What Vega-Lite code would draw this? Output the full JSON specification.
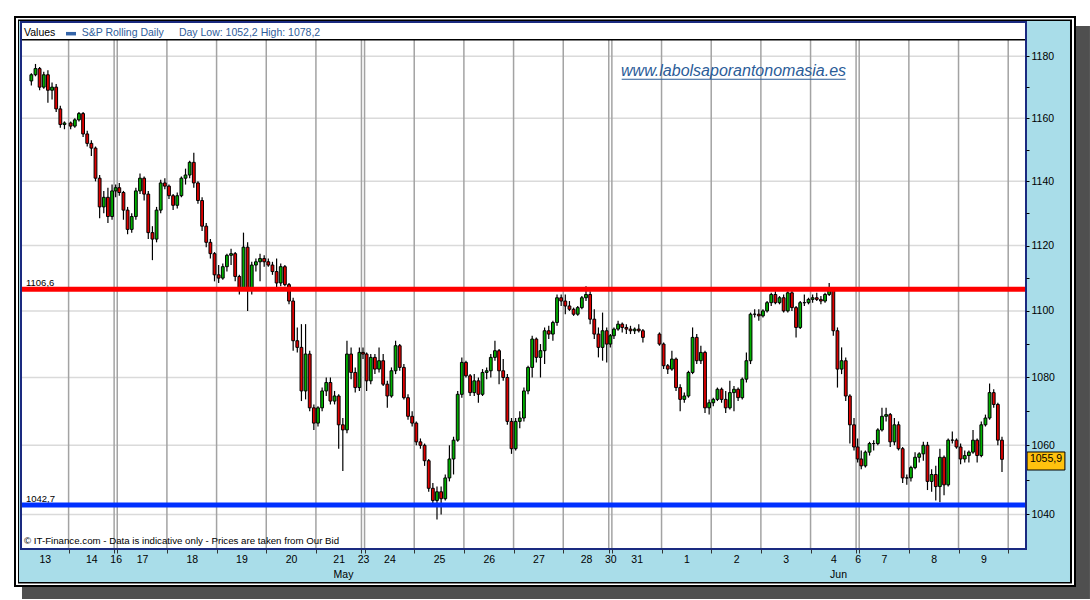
{
 "$schema": "https://vega.github.io/schema/vega-lite/v6.json",
 "width": 1005, "height": 527,
 "autosize": {"type": "none"},
 "padding": {"left": 21, "top": 22, "right": 64, "bottom": 51},
 "background": "white",
 "config": {"view": {"stroke": null}, "font": "Liberation Sans"},
 "resolve": {"axis": {"x": "independent", "y": "independent"}},
 "datasets": {
  "vgrid": [{"b":23},{"b":45},{"b":46.5},{"b":70.5},{"b":94.5},{"b":118.5},{"b":142.5},{"b":164.5},{"b":166},{"b":190},{"b":214},{"b":238},{"b":262},{"b":284},{"b":285.5},{"b":309.5},{"b":333.5},{"b":357.5},{"b":381.5},{"b":403.5},{"b":405},{"b":429},{"b":453},{"b":477}],
  "hgrid": [{"v":1040},{"v":1060},{"v":1080},{"v":1100},{"v":1120},{"v":1140},{"v":1160},{"v":1180}],
  "candles": [
{"t":5,"o":1172,"h":1174.5,"l":1170.5,"c":1174},
{"t":7,"o":1174,"h":1177.5,"l":1173.5,"c":1176},
{"t":9,"o":1176,"h":1176.5,"l":1169,"c":1170},
{"t":11,"o":1170,"h":1175,"l":1169.5,"c":1174},
{"t":13,"o":1174,"h":1175.5,"l":1165,"c":1169},
{"t":15,"o":1169,"h":1171.5,"l":1166,"c":1170},
{"t":17,"o":1170,"h":1171,"l":1162,"c":1163},
{"t":19,"o":1163,"h":1164,"l":1157,"c":1158},
{"t":21,"o":1158,"h":1159,"l":1156.5,"c":1158.5},
{"t":24,"o":1158.5,"h":1159,"l":1156.5,"c":1157.5},
{"t":26,"o":1157.5,"h":1160,"l":1157,"c":1159.5},
{"t":28,"o":1159.5,"h":1162,"l":1159,"c":1161.5},
{"t":30,"o":1161.5,"h":1162,"l":1154,"c":1155},
{"t":32,"o":1155,"h":1156,"l":1151,"c":1152},
{"t":34,"o":1152,"h":1153,"l":1148,"c":1150.5},
{"t":36,"o":1150.5,"h":1151,"l":1140,"c":1141},
{"t":38,"o":1141,"h":1142,"l":1128.5,"c":1132},
{"t":40,"o":1132,"h":1137,"l":1130,"c":1135},
{"t":42,"o":1135,"h":1138,"l":1127,"c":1129},
{"t":44,"o":1129,"h":1139,"l":1128,"c":1137},
{"t":45.75,"o":1137,"h":1139,"l":1135,"c":1138},
{"t":47.5,"o":1138,"h":1139.5,"l":1135.5,"c":1136.5},
{"t":49.5,"o":1136.5,"h":1137,"l":1128,"c":1131},
{"t":51.5,"o":1131,"h":1132,"l":1123.5,"c":1125},
{"t":53.5,"o":1125,"h":1130,"l":1124,"c":1129},
{"t":55.5,"o":1129,"h":1138,"l":1128,"c":1137},
{"t":57.5,"o":1137,"h":1142.5,"l":1136,"c":1141},
{"t":59.5,"o":1141,"h":1141.5,"l":1134,"c":1136},
{"t":61.5,"o":1136,"h":1137,"l":1122,"c":1124},
{"t":63.5,"o":1124,"h":1126,"l":1115.5,"c":1122},
{"t":65.5,"o":1122,"h":1132,"l":1121,"c":1131},
{"t":67.5,"o":1131,"h":1140.5,"l":1130,"c":1139.5},
{"t":69.5,"o":1139.5,"h":1141,"l":1137.5,"c":1138.5},
{"t":71.5,"o":1138.5,"h":1139,"l":1134.5,"c":1135.5},
{"t":73.5,"o":1135.5,"h":1136,"l":1131,"c":1132.5},
{"t":75.5,"o":1132.5,"h":1136.5,"l":1131.5,"c":1135.5},
{"t":77.5,"o":1135.5,"h":1141.5,"l":1135,"c":1141},
{"t":79.5,"o":1141,"h":1144,"l":1139,"c":1142},
{"t":81.5,"o":1142,"h":1146.5,"l":1141,"c":1146},
{"t":83.5,"o":1146,"h":1149,"l":1138,"c":1139.5},
{"t":85.5,"o":1139.5,"h":1140,"l":1133,"c":1134},
{"t":87.5,"o":1134,"h":1135,"l":1124.5,"c":1126},
{"t":89.5,"o":1126,"h":1127,"l":1119.5,"c":1121},
{"t":91.5,"o":1121,"h":1122,"l":1116,"c":1117.5},
{"t":93.5,"o":1117.5,"h":1118,"l":1109,"c":1111},
{"t":95.5,"o":1111,"h":1114,"l":1108.5,"c":1110},
{"t":97.5,"o":1110,"h":1114.5,"l":1109.5,"c":1113.5},
{"t":99.5,"o":1113.5,"h":1117.5,"l":1112,"c":1117},
{"t":101.5,"o":1117,"h":1119,"l":1114,"c":1117.5},
{"t":103.5,"o":1117.5,"h":1118,"l":1109,"c":1110.5},
{"t":105.5,"o":1110.5,"h":1111,"l":1105,"c":1107},
{"t":107.5,"o":1107,"h":1124,"l":1106.5,"c":1119.5},
{"t":109.5,"o":1119.5,"h":1121,"l":1100,"c":1107},
{"t":111.5,"o":1107,"h":1115,"l":1105,"c":1114},
{"t":113.5,"o":1114,"h":1116,"l":1112,"c":1115},
{"t":115.5,"o":1115,"h":1117.5,"l":1109,"c":1116},
{"t":117.5,"o":1116,"h":1117,"l":1113.5,"c":1115},
{"t":119.5,"o":1115,"h":1116,"l":1113.5,"c":1114},
{"t":121.5,"o":1114,"h":1115,"l":1111,"c":1112},
{"t":123.5,"o":1112,"h":1116,"l":1107,"c":1108.5},
{"t":125.5,"o":1108.5,"h":1114.5,"l":1107.5,"c":1113.5},
{"t":127.5,"o":1113.5,"h":1114,"l":1107.5,"c":1108},
{"t":129.5,"o":1108,"h":1108.5,"l":1102,"c":1103},
{"t":131.5,"o":1103,"h":1104,"l":1088,"c":1091},
{"t":133.5,"o":1091,"h":1095,"l":1087.5,"c":1089},
{"t":135.5,"o":1089,"h":1096,"l":1073,"c":1076},
{"t":137.5,"o":1076,"h":1096,"l":1073.5,"c":1087},
{"t":139.5,"o":1087,"h":1088,"l":1070,"c":1071},
{"t":141.5,"o":1071,"h":1072,"l":1064.5,"c":1066.5},
{"t":143.5,"o":1066.5,"h":1071.5,"l":1065.5,"c":1071},
{"t":145.5,"o":1071,"h":1077,"l":1070,"c":1076},
{"t":147.5,"o":1076,"h":1080,"l":1074.5,"c":1078.5},
{"t":149.5,"o":1078.5,"h":1080,"l":1072,"c":1073},
{"t":151.5,"o":1073,"h":1076,"l":1072,"c":1074.5},
{"t":153.5,"o":1074.5,"h":1075,"l":1059,"c":1066},
{"t":155.5,"o":1066,"h":1068,"l":1052.5,"c":1064.5},
{"t":157.5,"o":1064.5,"h":1091,"l":1063.5,"c":1087},
{"t":159.5,"o":1087,"h":1089,"l":1079.5,"c":1081.5},
{"t":161.5,"o":1081.5,"h":1083,"l":1075.5,"c":1077},
{"t":163.5,"o":1077,"h":1089,"l":1076,"c":1087.5},
{"t":165.25,"o":1087.5,"h":1089,"l":1085.5,"c":1087},
{"t":167,"o":1087,"h":1087.5,"l":1076,"c":1079},
{"t":169,"o":1079,"h":1087,"l":1078,"c":1086},
{"t":171,"o":1086,"h":1087,"l":1081,"c":1082.5},
{"t":173,"o":1082.5,"h":1089,"l":1081.5,"c":1085},
{"t":175,"o":1085,"h":1087,"l":1077.5,"c":1078},
{"t":177,"o":1078,"h":1079,"l":1071,"c":1074.5},
{"t":179,"o":1074.5,"h":1083,"l":1074,"c":1082},
{"t":181,"o":1082,"h":1091,"l":1081,"c":1089.5},
{"t":183,"o":1089.5,"h":1090,"l":1082,"c":1083},
{"t":185,"o":1083,"h":1084,"l":1073.5,"c":1074},
{"t":187,"o":1074,"h":1075,"l":1067.5,"c":1068.5},
{"t":189,"o":1068.5,"h":1070,"l":1065.5,"c":1066.5},
{"t":191,"o":1066.5,"h":1067,"l":1060,"c":1061},
{"t":193,"o":1061,"h":1062,"l":1059,"c":1060},
{"t":195,"o":1060,"h":1060.5,"l":1054,"c":1055.5},
{"t":197,"o":1055.5,"h":1056,"l":1046.5,"c":1047.5},
{"t":199,"o":1047.5,"h":1049,"l":1042.5,"c":1044},
{"t":201,"o":1044,"h":1048,"l":1038.5,"c":1046.5},
{"t":203,"o":1046.5,"h":1048,"l":1040,"c":1044.5},
{"t":205,"o":1044.5,"h":1051.5,"l":1044,"c":1050.5},
{"t":207,"o":1050.5,"h":1060,"l":1049.5,"c":1056},
{"t":209,"o":1056,"h":1062.5,"l":1051.5,"c":1061.5},
{"t":211,"o":1061.5,"h":1076,"l":1061,"c":1075},
{"t":213,"o":1075,"h":1086,"l":1074,"c":1084.5},
{"t":215,"o":1084.5,"h":1085,"l":1080,"c":1080.5},
{"t":217,"o":1080.5,"h":1081,"l":1074.5,"c":1075.5},
{"t":219,"o":1075.5,"h":1081,"l":1074.5,"c":1079},
{"t":221,"o":1079,"h":1080,"l":1072.5,"c":1075},
{"t":223,"o":1075,"h":1082.5,"l":1074.5,"c":1081.5},
{"t":225,"o":1081.5,"h":1083,"l":1079.5,"c":1082},
{"t":227,"o":1082,"h":1087,"l":1080,"c":1086},
{"t":229,"o":1086,"h":1091,"l":1085,"c":1088},
{"t":231,"o":1088,"h":1088.5,"l":1078,"c":1082},
{"t":233,"o":1082,"h":1085.5,"l":1079,"c":1080},
{"t":235,"o":1080,"h":1081,"l":1066,"c":1067},
{"t":237,"o":1067,"h":1068,"l":1057.5,"c":1059},
{"t":239,"o":1059,"h":1068,"l":1058.5,"c":1067},
{"t":241,"o":1067,"h":1070,"l":1065,"c":1068},
{"t":243,"o":1068,"h":1077,"l":1067,"c":1076},
{"t":245,"o":1076,"h":1083.5,"l":1075,"c":1083},
{"t":247,"o":1083,"h":1092.5,"l":1080,"c":1091.5},
{"t":249,"o":1091.5,"h":1092,"l":1084.5,"c":1086},
{"t":251,"o":1086,"h":1090,"l":1080,"c":1088},
{"t":253,"o":1088,"h":1095,"l":1084,"c":1094},
{"t":255,"o":1094,"h":1095.5,"l":1091.5,"c":1093},
{"t":257,"o":1093,"h":1097,"l":1091,"c":1096.5},
{"t":259,"o":1096.5,"h":1105,"l":1095.5,"c":1104},
{"t":261,"o":1104,"h":1105,"l":1101.5,"c":1103},
{"t":263,"o":1103,"h":1105,"l":1099,"c":1101.5},
{"t":265,"o":1101.5,"h":1103,"l":1100,"c":1100.5},
{"t":267,"o":1100.5,"h":1101,"l":1098.5,"c":1099},
{"t":269,"o":1099,"h":1101.5,"l":1098.5,"c":1101},
{"t":271,"o":1101,"h":1104.5,"l":1100.5,"c":1104},
{"t":273,"o":1104,"h":1107.5,"l":1103,"c":1105},
{"t":275,"o":1105,"h":1106,"l":1096,"c":1097.5},
{"t":277,"o":1097.5,"h":1100.5,"l":1091.5,"c":1093},
{"t":279,"o":1093,"h":1095,"l":1086,"c":1089},
{"t":281,"o":1089,"h":1099.5,"l":1085,"c":1094},
{"t":283,"o":1094,"h":1095,"l":1084.5,"c":1090},
{"t":284.75,"o":1090,"h":1093,"l":1089,"c":1092.5},
{"t":286.5,"o":1092.5,"h":1095,"l":1091.5,"c":1094.5},
{"t":288.5,"o":1094.5,"h":1097,"l":1094,"c":1096},
{"t":290.5,"o":1096,"h":1096.5,"l":1093.5,"c":1095},
{"t":292.5,"o":1095,"h":1096,"l":1093,"c":1094.5},
{"t":294.5,"o":1094.5,"h":1095.5,"l":1093,"c":1094},
{"t":296.5,"o":1094,"h":1095,"l":1093,"c":1094.5},
{"t":298.5,"o":1094.5,"h":1096,"l":1093.5,"c":1094},
{"t":300.5,"o":1094,"h":1094.5,"l":1090.5,"c":1092},
{"t":308.5,"o":1093,"h":1093.5,"l":1089.5,"c":1090},
{"t":310.5,"o":1090,"h":1090.5,"l":1082.5,"c":1083.5},
{"t":312.5,"o":1083.5,"h":1084,"l":1081,"c":1082.5},
{"t":314.5,"o":1082.5,"h":1088,"l":1082,"c":1085.5},
{"t":316.5,"o":1085.5,"h":1086,"l":1076,"c":1077},
{"t":318.5,"o":1077,"h":1078,"l":1070,"c":1073.5},
{"t":320.5,"o":1073.5,"h":1075.5,"l":1072.5,"c":1074.5},
{"t":322.5,"o":1074.5,"h":1082,"l":1074,"c":1081.5},
{"t":324.5,"o":1081.5,"h":1095,"l":1081,"c":1092},
{"t":326.5,"o":1092,"h":1093,"l":1084,"c":1085},
{"t":328.5,"o":1085,"h":1089.5,"l":1084,"c":1087.5},
{"t":330.5,"o":1087.5,"h":1088,"l":1069.5,"c":1071},
{"t":332.5,"o":1071,"h":1073.5,"l":1069,"c":1072.5},
{"t":334.5,"o":1072.5,"h":1074,"l":1071.5,"c":1073.5},
{"t":336.5,"o":1073.5,"h":1077,"l":1073,"c":1076.5},
{"t":338.5,"o":1076.5,"h":1077,"l":1072.5,"c":1073.5},
{"t":340.5,"o":1073.5,"h":1076,"l":1069.5,"c":1071},
{"t":342.5,"o":1071,"h":1079,"l":1070.5,"c":1075.5},
{"t":344.5,"o":1075.5,"h":1077.5,"l":1070,"c":1076.5},
{"t":346.5,"o":1076.5,"h":1077,"l":1073,"c":1074},
{"t":348.5,"o":1074,"h":1080,"l":1073.5,"c":1079.5},
{"t":350.5,"o":1079.5,"h":1087.5,"l":1078.5,"c":1085},
{"t":352.5,"o":1085,"h":1099.5,"l":1084,"c":1099},
{"t":354.5,"o":1099,"h":1100.5,"l":1098,"c":1099},
{"t":356.5,"o":1099,"h":1100.5,"l":1097,"c":1098.5},
{"t":358.5,"o":1098.5,"h":1100.5,"l":1098,"c":1100},
{"t":360.5,"o":1100,"h":1103,"l":1099.5,"c":1102.5},
{"t":362.5,"o":1102.5,"h":1105.5,"l":1101.5,"c":1105},
{"t":364.5,"o":1105,"h":1106,"l":1102,"c":1102.5},
{"t":366.5,"o":1102.5,"h":1104.5,"l":1102,"c":1104},
{"t":368.5,"o":1104,"h":1105,"l":1099.5,"c":1100},
{"t":370.5,"o":1100,"h":1106,"l":1099.5,"c":1105.5},
{"t":372.5,"o":1105.5,"h":1106.5,"l":1100,"c":1101},
{"t":374.5,"o":1101,"h":1101.5,"l":1092,"c":1095},
{"t":376.5,"o":1095,"h":1103,"l":1094.5,"c":1102.5},
{"t":378.5,"o":1102.5,"h":1105,"l":1101.5,"c":1102.5},
{"t":380.5,"o":1102.5,"h":1104,"l":1102,"c":1103.5},
{"t":382.5,"o":1103.5,"h":1105,"l":1102.5,"c":1104},
{"t":384.5,"o":1104,"h":1105.5,"l":1103,"c":1103.5},
{"t":386.5,"o":1103.5,"h":1104.5,"l":1102,"c":1103},
{"t":388.5,"o":1103,"h":1105.5,"l":1102.5,"c":1105},
{"t":390.5,"o":1105,"h":1108.5,"l":1104.5,"c":1106.5},
{"t":392.5,"o":1106.5,"h":1107,"l":1092.5,"c":1094},
{"t":394.5,"o":1094,"h":1095,"l":1077,"c":1082.5},
{"t":396.5,"o":1082.5,"h":1089,"l":1081,"c":1085},
{"t":398.5,"o":1085,"h":1086,"l":1073,"c":1074.5},
{"t":400.5,"o":1074.5,"h":1075,"l":1060.5,"c":1066},
{"t":402.5,"o":1066,"h":1068,"l":1058.5,"c":1059.5},
{"t":404.25,"o":1059.5,"h":1062,"l":1055,"c":1056},
{"t":406,"o":1056,"h":1058.5,"l":1053,"c":1054},
{"t":408,"o":1054,"h":1058.5,"l":1053.5,"c":1058},
{"t":410,"o":1058,"h":1061,"l":1057,"c":1060.5},
{"t":412,"o":1060.5,"h":1061.5,"l":1058.5,"c":1060.5},
{"t":414,"o":1060.5,"h":1065,"l":1060,"c":1064.5},
{"t":416,"o":1064.5,"h":1071,"l":1064,"c":1068.5},
{"t":418,"o":1068.5,"h":1071,"l":1067,"c":1069},
{"t":420,"o":1069,"h":1069.5,"l":1059.5,"c":1061},
{"t":422,"o":1061,"h":1068,"l":1060,"c":1066},
{"t":424,"o":1066,"h":1067,"l":1058.5,"c":1059},
{"t":426,"o":1059,"h":1059.5,"l":1049,"c":1050.5},
{"t":428,"o":1050.5,"h":1051.5,"l":1048.5,"c":1050.5},
{"t":430,"o":1050.5,"h":1054,"l":1049.5,"c":1053.5},
{"t":432,"o":1053.5,"h":1058,"l":1053,"c":1056.5},
{"t":434,"o":1056.5,"h":1058,"l":1055,"c":1057.5},
{"t":436,"o":1057.5,"h":1061,"l":1055.5,"c":1060},
{"t":438,"o":1060,"h":1061,"l":1047,"c":1049.5},
{"t":440,"o":1049.5,"h":1053,"l":1046.5,"c":1051.5},
{"t":442,"o":1051.5,"h":1054,"l":1044,"c":1048},
{"t":444,"o":1048,"h":1059,"l":1043.5,"c":1056.5},
{"t":446,"o":1056.5,"h":1057,"l":1045.5,"c":1048.5},
{"t":448,"o":1048.5,"h":1062,"l":1048,"c":1061.5},
{"t":450,"o":1061.5,"h":1064,"l":1060.5,"c":1061.5},
{"t":452,"o":1061.5,"h":1062,"l":1059,"c":1059.5},
{"t":454,"o":1059.5,"h":1060.5,"l":1054.5,"c":1056},
{"t":456,"o":1056,"h":1058.5,"l":1055,"c":1057},
{"t":458,"o":1057,"h":1058.5,"l":1055,"c":1058},
{"t":460,"o":1058,"h":1064.5,"l":1057.5,"c":1061.5},
{"t":462,"o":1061.5,"h":1062,"l":1055,"c":1057},
{"t":464,"o":1057,"h":1067,"l":1056.5,"c":1066},
{"t":466,"o":1066,"h":1069,"l":1065.5,"c":1068},
{"t":468,"o":1068,"h":1078.2,"l":1067.5,"c":1075.5},
{"t":470,"o":1075.5,"h":1076.5,"l":1071,"c":1072},
{"t":472,"o":1072,"h":1072.5,"l":1060,"c":1061.5},
{"t":474,"o":1061.5,"h":1062.5,"l":1052.2,"c":1055.9}
  ]
 },
 "layer": [
  {"data": {"values": [{}]}, "mark": {"type": "rect", "fill": "#4f4f4f"},
   "encoding": {"x": {"datum": 0.48, "type": "quantitative", "scale": {"domain": [0, 485.6], "nice": false, "zero": false, "padding": 0}, "axis": null}, "x2": {"datum": 516.5},
    "y": {"datum": 1189.9, "type": "quantitative", "scale": {"type": "log", "domain": [1030.12, 1191.2], "nice": false}, "axis": null}, "y2": {"datum": 1016.0}}},
  {"data": {"values": [{}]}, "mark": {"type": "rect", "fill": "#000000"},
   "encoding": {"x": {"datum": -3.38, "type": "quantitative", "scale": {"domain": [0, 485.6], "nice": false, "zero": false, "padding": 0}, "axis": null}, "x2": {"datum": 509.76},
    "y": {"datum": 1193.19, "type": "quantitative", "scale": {"type": "log", "domain": [1030.12, 1191.2], "nice": false}, "axis": null}, "y2": {"datum": 1019.38}}},
  {"data": {"values": [{}]}, "mark": {"type": "rect", "fill": "#ffffff"},
   "encoding": {"x": {"datum": -2.42, "type": "quantitative", "scale": {"domain": [0, 485.6], "nice": false, "zero": false, "padding": 0}, "axis": null}, "x2": {"datum": 508.79},
    "y": {"datum": 1192.53, "type": "quantitative", "scale": {"type": "log", "domain": [1030.12, 1191.2], "nice": false}, "axis": null}, "y2": {"datum": 1019.94}}},
  {"data": {"values": [{}]}, "mark": {"type": "rect", "fill": "#000000"},
   "encoding": {"x": {"datum": -1.45, "type": "quantitative", "scale": {"domain": [0, 485.6], "nice": false, "zero": false, "padding": 0}, "axis": null}, "x2": {"datum": 507.83},
    "y": {"datum": 1192.04, "type": "quantitative", "scale": {"type": "log", "domain": [1030.12, 1191.2], "nice": false}, "axis": null}, "y2": {"datum": 1020.36}}},
  {"data": {"values": [{}]}, "mark": {"type": "rect", "fill": "#a9dde9"},
   "encoding": {"x": {"datum": -0.97, "type": "quantitative", "scale": {"domain": [0, 485.6], "nice": false, "zero": false, "padding": 0}, "axis": null}, "x2": {"datum": 506.86},
    "y": {"datum": 1191.55, "type": "quantitative", "scale": {"type": "log", "domain": [1030.12, 1191.2], "nice": false}, "axis": null}, "y2": {"datum": 1020.79}}},
  {"data": {"values": [{}]}, "mark": {"type": "rect", "fill": "#ffffff"},
   "encoding": {"x": {"datum": 0, "type": "quantitative", "scale": {"domain": [0, 485.6], "nice": false, "zero": false, "padding": 0}, "axis": null}, "x2": {"datum": 485.6},
    "y": {"datum": 1191.2, "type": "quantitative", "scale": {"type": "log", "domain": [1030.12, 1191.2], "nice": false}, "axis": null}, "y2": {"datum": 1030.12}}},
  {"data": {"name": "hgrid"}, "mark": {"type": "rule", "color": "#dadada", "strokeWidth": 1.5},
   "encoding": {"y": {"field": "v", "type": "quantitative", "scale": {"type": "log", "domain": [1030.12, 1191.2], "nice": false}, "axis": null}}},
  {"data": {"name": "vgrid"}, "mark": {"type": "rule", "color": "#a3a3a3", "strokeWidth": 1.5},
   "encoding": {"x": {"field": "b", "type": "quantitative", "scale": {"domain": [0, 485.6], "nice": false, "zero": false, "padding": 0}, "axis": null},
    "y": {"datum": 1030.12, "type": "quantitative", "scale": {"type": "log", "domain": [1030.12, 1191.2], "nice": false}, "axis": null}, "y2": {"datum": 1185.4}}},
  {"data": {"values": [{}]}, "mark": {"type": "rule", "color": "#000000", "strokeWidth": 1.5},
   "encoding": {"y": {"datum": 1185.4, "type": "quantitative", "scale": {"type": "log", "domain": [1030.12, 1191.2], "nice": false}, "axis": null}}},
  {"data": {"name": "candles"}, "mark": {"type": "rule", "color": "#000000", "strokeWidth": 1.2},
   "encoding": {
    "x": {"field": "t", "type": "quantitative", "scale": {"domain": [0, 485.6], "nice": false, "zero": false, "padding": 0},
     "axis": {"orient": "bottom", "title": null, "grid": false, "domain": false, "zindex": 1,
      "values": [11.5,34,45.75,58.5,82.5,106.5,130.5,153.5,165.25,178,202,226,250,273,284.75,297.5,321.5,345.5,369.5,392.5,404.25,417,441,465,155.6,394.8,23,45,46.5,70.5,94.5,118.5,142.5,164.5,166,190,214,238,262,284,285.5,309.5,333.5,357.5,381.5,403.5,405,429,453,477],
      "labelExpr": "indexof([11.5,34,45.75,58.5,82.5,106.5,130.5,153.5,165.25,178,202,226,250,273,284.75,297.5,321.5,345.5,369.5,392.5,404.25,417,441,465,155.6,394.8], datum.value) >= 0 ? ['13','14','16','17','18','19','20','21','23','24','25','26','27','28','30','31','1','2','3','4','6','7','8','9','May','Jun'][indexof([11.5,34,45.75,58.5,82.5,106.5,130.5,153.5,165.25,178,202,226,250,273,284.75,297.5,321.5,345.5,369.5,392.5,404.25,417,441,465,155.6,394.8], datum.value)] : ''",
      "tickSize": 4, "tickColor": "#333333", "tickWidth": 1,
      "tickOpacity": {"condition": {"test": "indexof([23,45,46.5,70.5,94.5,118.5,142.5,164.5,166,190,214,238,262,284,285.5,309.5,333.5,357.5,381.5,403.5,405,429,453,477], datum.value) >= 0", "value": 1}, "value": 0},
      "labelPadding": {"condition": {"test": "datum.value == 155.6 || datum.value == 394.8", "value": 16}, "value": 1},
      "labelFont": "Liberation Sans", "labelFontSize": 10.5, "labelColor": "#000000",
      "labelOverlap": false, "labelBound": false, "labelFlush": false}},
    "y": {"field": "l", "type": "quantitative", "scale": {"type": "log", "domain": [1030.12, 1191.2], "nice": false},
     "axis": {"orient": "right", "title": null, "grid": false, "domain": false, "zindex": 1,
      "values": [1040,1050,1060,1070,1080,1090,1100,1110,1120,1130,1140,1150,1160,1170,1180],
      "labelExpr": "datum.value % 20 == 0 ? format(datum.value, 'd') : ''",
      "tickSize": 3, "tickColor": "#000000", "labelPadding": 2,
      "labelFont": "Liberation Sans", "labelFontSize": 10.5, "labelColor": "#000000",
      "labelOverlap": false, "labelBound": false, "labelFlush": false}},
    "y2": {"field": "h"}}},
  {"data": {"name": "candles"}, "mark": {"type": "bar", "size": 2.8, "stroke": "#000000", "strokeWidth": 1},
   "encoding": {
    "x": {"field": "t", "type": "quantitative", "scale": {"domain": [0, 485.6], "nice": false, "zero": false, "padding": 0}, "axis": null},
    "y": {"field": "o", "type": "quantitative", "scale": {"type": "log", "domain": [1030.12, 1191.2], "nice": false}, "axis": null},
    "y2": {"field": "c"},
    "fill": {"condition": {"test": "datum.c >= datum.o", "value": "#00b000"}, "value": "#e00000"}}},
  {"data": {"values": [{}]}, "mark": {"type": "rule", "color": "#ff0000", "strokeWidth": 5},
   "encoding": {"y": {"datum": 1106.6, "type": "quantitative", "scale": {"type": "log", "domain": [1030.12, 1191.2], "nice": false}, "axis": null}}},
  {"data": {"values": [{}]}, "mark": {"type": "rule", "color": "#0030ff", "strokeWidth": 5},
   "encoding": {"y": {"datum": 1042.7, "type": "quantitative", "scale": {"type": "log", "domain": [1030.12, 1191.2], "nice": false}, "axis": null}}},
  {"data": {"values": [{}]}, "mark": {"type": "text", "text": "1106,6", "align": "left", "baseline": "alphabetic", "dy": -3, "fontSize": 9.5, "color": "#000000"},
   "encoding": {"x": {"datum": 2.4, "type": "quantitative", "scale": {"domain": [0, 485.6], "nice": false, "zero": false, "padding": 0}, "axis": null},
    "y": {"datum": 1106.6, "type": "quantitative", "scale": {"type": "log", "domain": [1030.12, 1191.2], "nice": false}, "axis": null}}},
  {"data": {"values": [{}]}, "mark": {"type": "text", "text": "1042,7", "align": "left", "baseline": "alphabetic", "dy": -3, "fontSize": 9.5, "color": "#000000"},
   "encoding": {"x": {"datum": 2.4, "type": "quantitative", "scale": {"domain": [0, 485.6], "nice": false, "zero": false, "padding": 0}, "axis": null},
    "y": {"datum": 1042.7, "type": "quantitative", "scale": {"type": "log", "domain": [1030.12, 1191.2], "nice": false}, "axis": null}}},
  {"data": {"values": [{}]}, "mark": {"type": "text", "text": "Values", "align": "left", "baseline": "middle", "fontSize": 10.5, "color": "#000000"},
   "encoding": {"x": {"datum": 1.45, "type": "quantitative", "scale": {"domain": [0, 485.6], "nice": false, "zero": false, "padding": 0}, "axis": null},
    "y": {"datum": 1187.6, "type": "quantitative", "scale": {"type": "log", "domain": [1030.12, 1191.2], "nice": false}, "axis": null}}},
  {"data": {"values": [{}]}, "mark": {"type": "rect", "fill": "#3565a8"},
   "encoding": {"x": {"datum": 21.74, "type": "quantitative", "scale": {"domain": [0, 485.6], "nice": false, "zero": false, "padding": 0}, "axis": null}, "x2": {"datum": 26.58},
    "y": {"datum": 1187.94, "type": "quantitative", "scale": {"type": "log", "domain": [1030.12, 1191.2], "nice": false}, "axis": null}, "y2": {"datum": 1186.79}}},
  {"data": {"values": [{}]}, "mark": {"type": "text", "text": "S&P Rolling Daily", "align": "left", "baseline": "middle", "fontSize": 10.5, "color": "#2f5d9b"},
   "encoding": {"x": {"datum": 29.3, "type": "quantitative", "scale": {"domain": [0, 485.6], "nice": false, "zero": false, "padding": 0}, "axis": null},
    "y": {"datum": 1187.6, "type": "quantitative", "scale": {"type": "log", "domain": [1030.12, 1191.2], "nice": false}, "axis": null}}},
  {"data": {"values": [{}]}, "mark": {"type": "text", "text": "Day Low: 1052,2 High: 1078,2", "align": "left", "baseline": "middle", "fontSize": 10.5, "color": "#2f5d9b"},
   "encoding": {"x": {"datum": 76.3, "type": "quantitative", "scale": {"domain": [0, 485.6], "nice": false, "zero": false, "padding": 0}, "axis": null},
    "y": {"datum": 1187.6, "type": "quantitative", "scale": {"type": "log", "domain": [1030.12, 1191.2], "nice": false}, "axis": null}}},
  {"data": {"values": [{}]}, "mark": {"type": "text", "text": "www.labolsaporantonomasia.es", "align": "center", "baseline": "middle", "fontSize": 16, "fontStyle": "italic", "color": "#2b5c98"},
   "encoding": {"x": {"datum": 344.3, "type": "quantitative", "scale": {"domain": [0, 485.6], "nice": false, "zero": false, "padding": 0}, "axis": null},
    "y": {"datum": 1175.2, "type": "quantitative", "scale": {"type": "log", "domain": [1030.12, 1191.2], "nice": false}, "axis": null}}},
  {"data": {"values": [{}]}, "mark": {"type": "rule", "color": "#2b5c98", "strokeWidth": 1.2},
   "encoding": {"x": {"datum": 290.25, "type": "quantitative", "scale": {"domain": [0, 485.6], "nice": false, "zero": false, "padding": 0}, "axis": null}, "x2": {"datum": 398.48},
    "y": {"datum": 1172.55, "type": "quantitative", "scale": {"type": "log", "domain": [1030.12, 1191.2], "nice": false}, "axis": null}}},
  {"data": {"values": [{}]}, "mark": {"type": "text", "text": "© IT-Finance.com - Data is indicative only - Prices are taken from Our Bid", "align": "left", "baseline": "middle", "fontSize": 9.7, "color": "#000000"},
   "encoding": {"x": {"datum": 1.45, "type": "quantitative", "scale": {"domain": [0, 485.6], "nice": false, "zero": false, "padding": 0}, "axis": null},
    "y": {"datum": 1032.4, "type": "quantitative", "scale": {"type": "log", "domain": [1030.12, 1191.2], "nice": false}, "axis": null}}},
  {"data": {"values": [{}]}, "mark": {"type": "rect", "fill": "#ffc20e", "stroke": "#000000", "strokeWidth": 1},
   "encoding": {"x": {"datum": 486.1, "type": "quantitative", "scale": {"domain": [0, 485.6], "nice": false, "zero": false, "padding": 0}, "axis": null}, "x2": {"datum": 504.4},
    "y": {"datum": 1058.04, "type": "quantitative", "scale": {"type": "log", "domain": [1030.12, 1191.2], "nice": false}, "axis": null}, "y2": {"datum": 1052.8}}},
  {"data": {"values": [{}]}, "mark": {"type": "text", "text": "1055,9", "align": "center", "baseline": "middle", "fontSize": 10.5, "color": "#000000"},
   "encoding": {"x": {"datum": 495.25, "type": "quantitative", "scale": {"domain": [0, 485.6], "nice": false, "zero": false, "padding": 0}, "axis": null},
    "y": {"datum": 1055.9, "type": "quantitative", "scale": {"type": "log", "domain": [1030.12, 1191.2], "nice": false}, "axis": null}}},
  {"data": {"values": [{}]}, "mark": {"type": "rect", "filled": false, "stroke": "#1a2a80", "strokeWidth": 2},
   "encoding": {"x": {"datum": 0, "type": "quantitative", "scale": {"domain": [0, 485.6], "nice": false, "zero": false, "padding": 0}, "axis": null}, "x2": {"datum": 485.6},
    "y": {"datum": 1191.2, "type": "quantitative", "scale": {"type": "log", "domain": [1030.12, 1191.2], "nice": false}, "axis": null}, "y2": {"datum": 1030.12}}}
 ]
}
